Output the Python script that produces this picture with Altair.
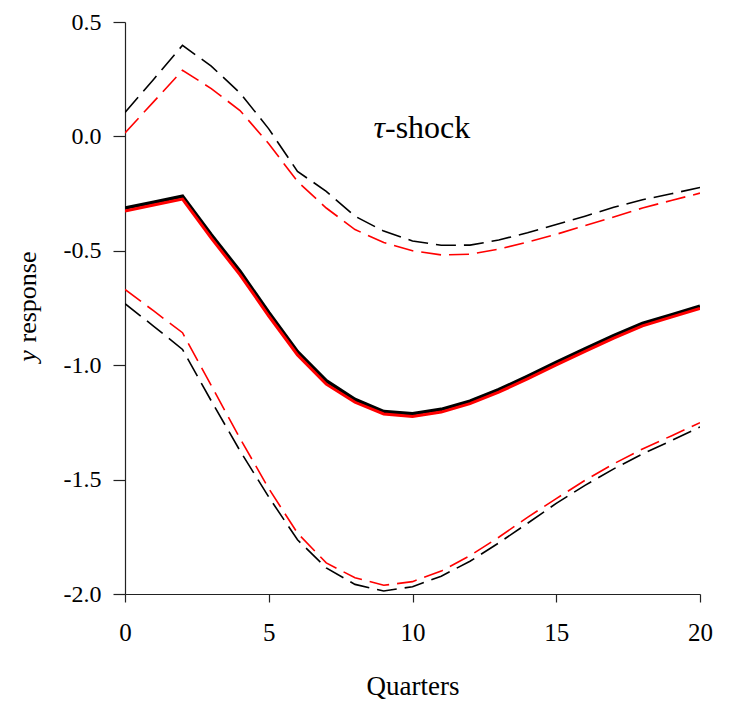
import altair as alt
import pandas as pd

quarters = list(range(21))

black_mid = [-0.313, -0.288, -0.262, -0.43, -0.59, -0.77, -0.941, -1.068, -1.15, -1.203, -1.212,
             -1.193, -1.157, -1.107, -1.049, -0.988, -0.929, -0.871, -0.818, -0.78, -0.742]
red_mid = [-0.326, -0.30, -0.274, -0.445, -0.605, -0.785, -0.955, -1.083, -1.162, -1.213, -1.224,
           -1.205, -1.168, -1.118, -1.06, -0.999, -0.94, -0.882, -0.828, -0.79, -0.752]
black_up = [0.105, 0.25, 0.398, 0.307, 0.19, 0.033, -0.153, -0.24, -0.349, -0.414, -0.457,
            -0.476, -0.475, -0.453, -0.421, -0.385, -0.349, -0.31, -0.277, -0.251, -0.223]
red_up = [0.015, 0.152, 0.289, 0.209, 0.113, -0.032, -0.197, -0.313, -0.407, -0.464, -0.5,
          -0.518, -0.515, -0.493, -0.462, -0.428, -0.39, -0.352, -0.313, -0.28, -0.248]
black_lo = [-0.731, -0.83, -0.931, -1.156, -1.374, -1.576, -1.763, -1.886, -1.958, -1.987, -1.968,
            -1.922, -1.857, -1.777, -1.691, -1.604, -1.525, -1.453, -1.388, -1.33, -1.27]
red_lo = [-0.669, -0.763, -0.858, -1.089, -1.32, -1.539, -1.734, -1.864, -1.929, -1.962, -1.946,
          -1.9, -1.832, -1.752, -1.665, -1.583, -1.503, -1.431, -1.366, -1.309, -1.251]

x_ticks = [0, 5, 10, 15, 20]
y_ticks = [0.5, 0.0, -0.5, -1.0, -1.5, -2.0]

FONT = "Liberation Serif"


def frame(vals):
    return pd.DataFrame({"q": quarters, "v": vals})


xs = alt.X("q:Q", scale=alt.Scale(domain=[0, 20], nice=False),
           axis=alt.Axis(values=x_ticks, title="Quarters", format="d", grid=False,
                         tickSize=8, labelPadding=18, titlePadding=28, labelFlush=False,
                         labelFontSize=25, titleFontSize=27, labelFont=FONT, titleFont=FONT,
                         titleFontWeight="normal"))
ys = alt.Y("v:Q", scale=alt.Scale(domain=[-2.0, 0.5], nice=False),
           axis=alt.Axis(values=y_ticks, title=None, grid=False, tickSize=12, labelPadding=12,
                         labelFontSize=24, labelFont=FONT, labelFlush=False,
                         labelExpr="replace(format(datum.value, '.1f'), '\u2212', '-')"))


def line(vals, color, width, dash=None):
    kw = dict(color=color, strokeWidth=width, clip=True)
    if dash:
        kw["strokeDash"] = dash
    return alt.Chart(frame(vals)).mark_line(**kw).encode(x=xs, y=ys)


layers = [
    line(black_up, "black", 1.6, [20, 8]),
    line(red_up, "#ff0000", 1.6, [20, 8]),
    line(black_lo, "black", 1.6, [20, 8]),
    line(red_lo, "#ff0000", 1.6, [20, 8]),
    line(black_mid, "black", 3.6),
    line(red_mid, "#ff0000", 3.0),
]

txt = pd.DataFrame({"a": [0]})
annot = [
    alt.Chart(txt).mark_text(text="\u03c4", font=FONT, fontSize=32, fontStyle="italic",
                             align="right", baseline="middle").encode(
        x=alt.value(260), y=alt.value(106)),
    alt.Chart(txt).mark_text(text="-shock", font=FONT, fontSize=32,
                             align="left", baseline="middle").encode(
        x=alt.value(260), y=alt.value(106)),
    alt.Chart(txt).mark_text(text="y", font=FONT, fontSize=26, fontStyle="italic", angle=270,
                             align="center", baseline="middle").encode(
        x=alt.value(-97), y=alt.value(334)),
    alt.Chart(txt).mark_text(text="response", font=FONT, fontSize=26, angle=270,
                             align="center", baseline="middle").encode(
        x=alt.value(-97), y=alt.value(275)),
]

chart = alt.layer(*layers, *annot).properties(
    width=575, height=572,
    autosize=alt.AutoSizeParams(type="none"),
    padding={"left": 117, "top": 14, "right": 22, "bottom": 105},
).configure_view(stroke=None).configure_axis(
    domainColor="#222", tickColor="#222", labelColor="black", titleColor="black",
    domainWidth=1.2, tickWidth=1.2,
)

chart.save("out.html", embed_options={"renderer": "svg", "actions": False})
